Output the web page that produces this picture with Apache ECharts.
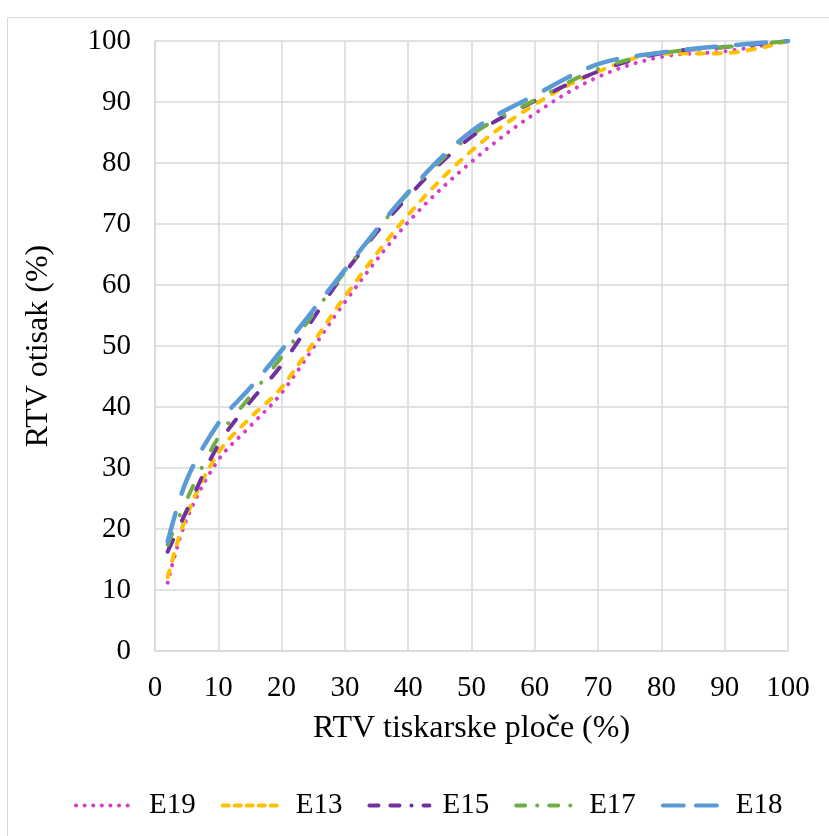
<!DOCTYPE html>
<html>
<head>
<meta charset="utf-8">
<script src="https://cdn.jsdelivr.net/npm/echarts@6/dist/echarts.min.js"></script>
<style>
html,body{margin:0;padding:0;background:#fff;}
#c{width:829px;height:836px;}
</style>
</head>
<body>
<div id="c"></div>
<script>
const xValues = [2, 5, 10, 15, 20, 30, 40, 50, 60, 70, 80, 90, 100];
const E19 = [11.2, 21.6, 31.3, 36.8, 42.3, 57.2, 70.3, 80.2, 88.1, 94.1, 97.4, 98.3, 100];
const E13 = [12.1, 22.2, 32.5, 38.2, 43.2, 58.1, 71.5, 82.0, 89.6, 95.0, 97.9, 98.0, 100];
const E15 = [16.3, 23.0, 33.8, 40.8, 46.9, 62.0, 74.5, 84.3, 90.2, 95.0, 98.0, 99.0, 100];
const E17 = [17.4, 24.8, 35.0, 41.7, 48.2, 62.2, 75.0, 84.6, 90.3, 95.4, 98.0, 99.0, 100];
const E18 = [17.9, 28.0, 37.3, 43.1, 49.3, 62.5, 75.2, 85.2, 91.1, 96.2, 98.1, 99.2, 100];
const seriesNames = ['E19', 'E13', 'E15', 'E17', 'E18'];
const seriesValues = [E19, E13, E15, E17, E18];
const colors = ['#D83BCB', '#FFC000', '#7030A0', '#70AD47', '#5B9BD5'];
const dashes = [[0.1, 9], [7, 10], [13, 21], [12, 20, 0.1, 20], [30, 20]];
const legendDashes = [[0.1, 8.5], [6, 6], [9, 12, 9, 12, 0.1, 12], [9, 12, 0.1, 12], [21, 12]];
const widths = [4, 4, 4, 4, 4.5];
const xTicks = [0, 10, 20, 30, 40, 50, 60, 70, 80, 90, 100];
const yTicks = [0, 10, 20, 30, 40, 50, 60, 70, 80, 90, 100];

const font = '"Liberation Serif", "Times New Roman", serif';
const chart = echarts.init(document.getElementById('c'), null, {renderer: 'canvas'});
const series = seriesNames.map((n, i) => ({
  name: n,
  type: 'line',
  smooth: 0.35,
  symbol: 'none',
  data: xValues.map((x, j) => [x, seriesValues[i][j]]),
  lineStyle: {color: colors[i], width: widths[i], type: dashes[i], cap: 'round'},
  itemStyle: {color: colors[i]},
  z: 2 + i
}));
chart.setOption({
  animation: false,
  backgroundColor: '#fff',
  graphic: [{
    type: 'rect', shape: {x: 7.5, y: 17.5, width: 830, height: 830},
    style: {fill: 'none', stroke: '#D9D9D9', lineWidth: 1}, silent: true
  }],
  grid: {left: 155, right: 41, top: 41, bottom: 185},
  xAxis: {
    type: 'value', min: 0, max: 100, interval: 10,
    name: 'RTV tiskarske ploče (%)', nameLocation: 'middle', nameGap: 62,
    nameTextStyle: {fontFamily: font, fontSize: 32, color: '#000'},
    axisLine: {show: true, lineStyle: {color: '#D9D9D9', width: 1.5}},
    axisTick: {show: false},
    axisLabel: {fontFamily: font, fontSize: 29, color: '#000', margin: 23,
      formatter: v => xTicks.includes(v) ? String(v) : ''},
    splitLine: {show: true, lineStyle: {color: '#D9D9D9', width: 1.5}}
  },
  yAxis: {
    type: 'value', min: 0, max: 100, interval: 10,
    name: 'RTV otisak (%)', nameLocation: 'middle', nameGap: 100,
    nameTextStyle: {fontFamily: font, fontSize: 32, color: '#000'},
    axisLine: {show: true, lineStyle: {color: '#D9D9D9', width: 1.5}},
    axisTick: {show: false},
    axisLabel: {fontFamily: font, fontSize: 29, color: '#000', margin: 24,
      formatter: v => yTicks.includes(v) ? String(v) : ''},
    splitLine: {show: true, lineStyle: {color: '#D9D9D9', width: 1.5}}
  },
  legend: {
    data: seriesNames.map((n, i) => ({
      name: n,
      itemStyle: {opacity: 0},
      lineStyle: {color: colors[i], width: 4, type: legendDashes[i], cap: 'round'}
    })),
    left: 69, top: 786, itemWidth: 60, itemHeight: 14, itemGap: 25,
    itemStyle: {opacity: 0},
    textStyle: {fontFamily: font, fontSize: 29, color: '#000', padding: [0, 0, 0, 8]}
  },
  series: series
});
</script>
</body>
</html>
